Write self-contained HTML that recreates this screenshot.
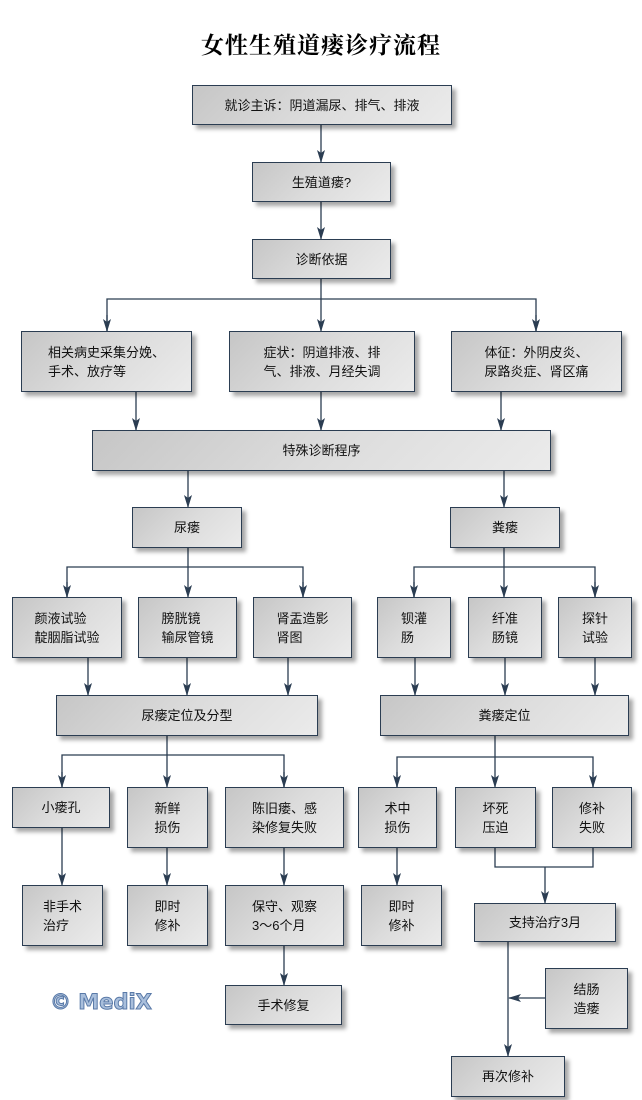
<!DOCTYPE html>
<html><head><meta charset="utf-8"><style>
body{margin:0;width:642px;height:1100px;background:#fff;position:relative;overflow:hidden;font-family:"Liberation Sans","Noto Sans CJK SC","WenQuanYi Zen Hei",sans-serif;}
.b{position:absolute;box-sizing:border-box;border:1.5px solid #2b3d52;background:linear-gradient(135deg,#c6c6c6 0%,#dcdcdc 50%,#ebebeb 100%);box-shadow:4px 4px 4px rgba(0,0,0,0.35);display:flex;align-items:center;justify-content:center;font-size:13px;color:#111;line-height:19px;}
.b span{text-align:left;}
h1{position:absolute;left:0;top:27px;width:642px;text-align:center;margin:0;font:bold 23px "Liberation Serif","Noto Serif CJK SC",serif;letter-spacing:1px;}
svg{position:absolute;left:0;top:0;}
.w{position:absolute;left:50px;top:990px;font:bold 21px "DejaVu Sans","Liberation Sans",sans-serif;color:#a9bfdc;-webkit-text-stroke:1px #5a7aa8;}
</style></head><body>
<h1>女性生殖道瘘诊疗流程</h1>
<svg width="642" height="1100">
<defs><marker id="a" markerWidth="13" markerHeight="8" refX="12" refY="4" orient="auto" markerUnits="userSpaceOnUse"><path d="M0,0 L3,4 L0,8 L13,4 Z" fill="#2b3d52"/></marker></defs>
<g stroke="#2b3d52" stroke-width="1.3" fill="none">
<path d="M321 124V162" marker-end="url(#a)"/>
<path d="M321 202V239" marker-end="url(#a)"/>
<path d="M321 278V331" marker-end="url(#a)"/>
<path d="M107 331V299H536V331" />
<path d="M107 315V331" marker-end="url(#a)"/>
<path d="M536 315V331" marker-end="url(#a)"/>
<path d="M136 391V430" marker-end="url(#a)"/>
<path d="M321 391V430" marker-end="url(#a)"/>
<path d="M501 391V430" marker-end="url(#a)"/>
<path d="M188 470V507" marker-end="url(#a)"/>
<path d="M504 470V507" marker-end="url(#a)"/>
<path d="M188 547V597" marker-end="url(#a)"/>
<path d="M67 597V567H303V597"/>
<path d="M67 582V597" marker-end="url(#a)"/>
<path d="M303 582V597" marker-end="url(#a)"/>
<path d="M504 547V597" marker-end="url(#a)"/>
<path d="M414 597V567H595V597"/>
<path d="M414 582V597" marker-end="url(#a)"/>
<path d="M595 582V597" marker-end="url(#a)"/>
<path d="M88 657V695" marker-end="url(#a)"/>
<path d="M187 657V695" marker-end="url(#a)"/>
<path d="M288 657V695" marker-end="url(#a)"/>
<path d="M415 657V695" marker-end="url(#a)"/>
<path d="M505 657V695" marker-end="url(#a)"/>
<path d="M595 657V695" marker-end="url(#a)"/>
<path d="M167 735V787" marker-end="url(#a)"/>
<path d="M62 787V755H284V787"/>
<path d="M62 772V787" marker-end="url(#a)"/>
<path d="M284 772V787" marker-end="url(#a)"/>
<path d="M495 735V787" marker-end="url(#a)"/>
<path d="M397 787V757H593V787"/>
<path d="M397 772V787" marker-end="url(#a)"/>
<path d="M593 772V787" marker-end="url(#a)"/>
<path d="M62 827V885" marker-end="url(#a)"/>
<path d="M167 847V885" marker-end="url(#a)"/>
<path d="M284 847V885" marker-end="url(#a)"/>
<path d="M397 847V885" marker-end="url(#a)"/>
<path d="M495 847V867H593V847"/>
<path d="M545 867V903" marker-end="url(#a)"/>
<path d="M284 945V985" marker-end="url(#a)"/>
<path d="M508 941V1056" marker-end="url(#a)"/>
<path d="M545 998H509" marker-end="url(#a)"/>
</g></svg>
<div class="b" style="left:192px;top:85px;width:260px;height:40px">就诊主诉：阴道漏尿、排气、排液</div>
<div class="b" style="left:252px;top:162px;width:139px;height:40px">生殖道瘘?</div>
<div class="b" style="left:252px;top:239px;width:139px;height:40px">诊断依据</div>
<div class="b" style="left:21px;top:331px;width:171px;height:61px"><span>相关病史采集分娩、<br>手术、放疗等</span></div>
<div class="b" style="left:229px;top:331px;width:186px;height:61px"><span>症状：阴道排液、排<br>气、排液、月经失调</span></div>
<div class="b" style="left:451px;top:331px;width:171px;height:61px"><span>体征：外阴皮炎、<br>尿路炎症、肾区痛</span></div>
<div class="b" style="left:92px;top:430px;width:459px;height:41px">特殊诊断程序</div>
<div class="b" style="left:132px;top:507px;width:110px;height:41px">尿瘘</div>
<div class="b" style="left:450px;top:507px;width:110px;height:41px">粪瘘</div>
<div class="b" style="left:12px;top:597px;width:110px;height:61px"><span>颜液试验<br>靛胭脂试验</span></div>
<div class="b" style="left:138px;top:597px;width:99px;height:61px"><span>膀胱镜<br>输尿管镜</span></div>
<div class="b" style="left:253px;top:597px;width:99px;height:61px"><span>肾盂造影<br>肾图</span></div>
<div class="b" style="left:377px;top:597px;width:74px;height:61px"><span>钡灌<br>肠</span></div>
<div class="b" style="left:468px;top:597px;width:74px;height:61px"><span>纤准<br>肠镜</span></div>
<div class="b" style="left:558px;top:597px;width:74px;height:61px"><span>探针<br>试验</span></div>
<div class="b" style="left:56px;top:695px;width:262px;height:41px">尿瘘定位及分型</div>
<div class="b" style="left:380px;top:695px;width:249px;height:41px">粪瘘定位</div>
<div class="b" style="left:12px;top:787px;width:98px;height:41px">小瘘孔</div>
<div class="b" style="left:127px;top:787px;width:81px;height:61px"><span>新鲜<br>损伤</span></div>
<div class="b" style="left:225px;top:787px;width:119px;height:61px"><span>陈旧瘘、感<br>染修复失败</span></div>
<div class="b" style="left:358px;top:787px;width:79px;height:61px"><span>术中<br>损伤</span></div>
<div class="b" style="left:455px;top:787px;width:81px;height:61px"><span>坏死<br>压迫</span></div>
<div class="b" style="left:552px;top:787px;width:80px;height:61px"><span>修补<br>失败</span></div>
<div class="b" style="left:22px;top:885px;width:81px;height:61px"><span>非手术<br>治疗</span></div>
<div class="b" style="left:127px;top:885px;width:81px;height:61px"><span>即时<br>修补</span></div>
<div class="b" style="left:225px;top:885px;width:119px;height:61px"><span>保守、观察<br>3～6个月</span></div>
<div class="b" style="left:361px;top:885px;width:81px;height:61px"><span>即时<br>修补</span></div>
<div class="b" style="left:474px;top:903px;width:142px;height:39px">支持治疗3月</div>
<div class="b" style="left:225px;top:985px;width:117px;height:40px">手术修复</div>
<div class="b" style="left:545px;top:968px;width:83px;height:61px"><span>结肠<br>造瘘</span></div>
<div class="b" style="left:451px;top:1056px;width:114px;height:41px">再次修补</div>
<div class="w">© MediX</div>
</body></html>
